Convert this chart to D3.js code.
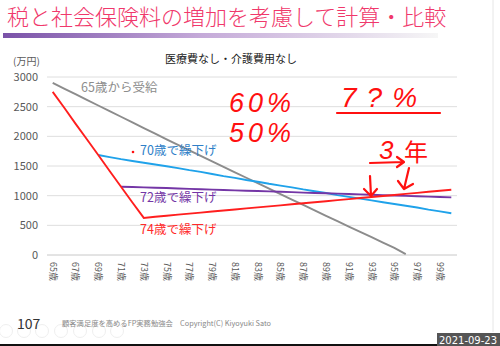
<!DOCTYPE html>
<html>
<head>
<meta charset="utf-8">
<script src="https://cdn.jsdelivr.net/npm/d3@7"></script>
<style>
  body { margin: 0; background: #fff; }
  svg { display: block; font-family: "Noto Sans CJK JP", "Noto Sans", sans-serif; }
</style>
</head>
<body>
<div id="chart"></div>
<script>
// categories (ages) and tick labels
var ages = [65, 66, 67, 68, 69, 70, 71, 72, 73, 74, 75, 76, 77, 78, 79, 80, 81, 82,
            83, 84, 85, 86, 87, 88, 89, 90, 91, 92, 93, 94, 95, 96, 97, 98, 99, 100];
var tickAges = [65, 67, 69, 71, 73, 75, 77, 79, 81, 83, 85, 87, 89, 91, 93, 95, 97, 99];
var yTicks = [0, 500, 1000, 1500, 2000, 2500, 3000];

// series values (万円), null = no value
var from65 = [2900, 2805, 2710, 2615, 2520, 2425, 2330, 2235, 2140, 2045, 1950, 1855,
              1762, 1670, 1578, 1486, 1394, 1302, 1210, 1118, 1026, 934, 843, 752,
              661, 570, 480, 390, 300, 210, 120, 15, null, null, null, null];
var defer70 = [null, null, null, null, 1685, 1650, 1615, 1585, 1555, 1525, 1495, 1465,
               1430, 1400, 1365, 1330, 1300, 1265, 1235, 1200, 1170, 1140, 1105, 1075,
               1045, 1010, 980, 950, 920, 890, 860, 830, 800, 765, 735, 703];
var defer72 = [null, null, null, null, null, null, 1150, 1145, 1140, 1134, 1128, 1121,
               1115, 1108, 1102, 1096, 1090, 1084, 1078, 1072, 1065, 1059, 1052, 1046,
               1040, 1034, 1028, 1021, 1015, 1008, 1002, 996, 990, 984, 978, 972];
var defer74 = [2750, 2485, 2215, 1950, 1685, 1415, 1150, 885, 625, 645, 662, 680,
               697, 715, 732, 750, 767, 785, 802, 820, 837, 855, 872, 890,
               907, 925, 942, 960, 977, 995, 1012, 1030, 1047, 1065, 1082, 1100];

var seriesNames = ["65歳から受給", "70歳で繰下げ", "72歳で繰下げ", "74歳で繰下げ"];

var width = 500, height = 346;
var svg = d3.select("#chart").append("svg")
    .attr("width", width)
    .attr("height", height);

// slide title + gradient bar
var defs = svg.append("defs");
var grad = defs.append("linearGradient").attr("id", "bar");
grad.append("stop").attr("offset", "0%").attr("stop-color", "#7a52a8");
grad.append("stop").attr("offset", "45%").attr("stop-color", "#c4a9d8");
grad.append("stop").attr("offset", "100%").attr("stop-color", "#f6f6f6");

svg.append("text")
    .attr("x", 7).attr("y", 25)
    .attr("fill", "#f0386b")
    .style("font-size", "22px")
    .style("font-weight", 300)
    .text("税と社会保険料の増加を考慮して計算・比較");
svg.append("rect")
    .attr("x", 3).attr("y", 33).attr("width", 435).attr("height", 5)
    .attr("fill", "url(#bar)");
svg.append("line")
    .attr("x1", 493).attr("x2", 493).attr("y1", 0).attr("y2", 332)
    .attr("stroke", "#e6e6e6");

// scales
var x = d3.scaleBand().domain(ages).range([47, 457]);
var y = d3.scaleLinear().domain([0, 3000]).range([255, 77]);
var cx = function (a) { return x(a) + x.bandwidth() / 2; };

// gridlines and y labels
svg.append("g").selectAll("line")
    .data(yTicks).enter().append("line")
    .attr("x1", 47).attr("x2", 457)
    .attr("y1", function (d) { return y(d); })
    .attr("y2", function (d) { return y(d); })
    .attr("stroke", function (d) { return d === 0 ? "#c8c8c8" : "#dedede"; })
    .attr("stroke-width", 1);

svg.append("g").selectAll("text")
    .data(yTicks).enter().append("text")
    .attr("x", 38)
    .attr("y", function (d) { return y(d) + 4; })
    .attr("text-anchor", "end")
    .attr("fill", "#595959")
    .style("font-size", "11px")
    .text(function (d) { return d; });

// x labels, rotated
svg.append("g").selectAll("text")
    .data(tickAges).enter().append("text")
    .attr("transform", function (d) { return "translate(" + (cx(d) - 3) + ",262) rotate(90)"; })
    .attr("fill", "#595959")
    .style("font-size", "9px")
    .text(function (d) { return d + "歳"; });

svg.append("text")
    .attr("x", 13).attr("y", 65)
    .attr("fill", "#595959")
    .style("font-size", "10px")
    .text("(万円)");

svg.append("text")
    .attr("x", 231).attr("y", 63)
    .attr("text-anchor", "middle")
    .attr("fill", "#222")
    .style("font-size", "11px")
    .text("医療費なし・介護費用なし");

// lines
var line = d3.line()
    .defined(function (d) { return d.v != null; })
    .x(function (d) { return cx(d.a); })
    .y(function (d) { return y(d.v); });

var series = [
    {values: from65, color: "#8c8c8c"},
    {values: defer70, color: "#1fa2ea"},
    {values: defer72, color: "#7436a6"},
    {values: defer74, color: "#ff1e1e"}
];
svg.append("g").selectAll("path")
    .data(series).enter().append("path")
    .attr("d", function (s) {
        return line(ages.map(function (a, i) { return {a: a, v: s.values[i]}; }));
    })
    .attr("fill", "none")
    .attr("stroke", function (s) { return s.color; })
    .attr("stroke-width", 1.9);

// series labels
var labels = [
    {text: seriesNames[0], x: 81, y: 92, color: "#8c8c8c"},
    {text: seriesNames[1], x: 140, y: 155, color: "#2f7fc8"},
    {text: seriesNames[2], x: 140, y: 202, color: "#7436a6"},
    {text: seriesNames[3], x: 140, y: 234, color: "#ff2a2a"}
];
svg.append("g").selectAll("text")
    .data(labels).enter().append("text")
    .attr("x", function (d) { return d.x; })
    .attr("y", function (d) { return d.y; })
    .attr("fill", function (d) { return d.color; })
    .style("font-size", "12.5px")
    .text(function (d) { return d.text; });

// handwritten notes
var red = "#ff1010";
var hand = svg.append("g").attr("fill", red)
    .style("font-family", "'Liberation Sans', sans-serif")
    .style("font-style", "italic");
hand.append("circle").attr("cx", 133).attr("cy", 152).attr("r", 1.3);
hand.append("text").attr("x", 229).attr("y", 112).style("font-size", "27px")
    .style("letter-spacing", "4px").text("60%");
hand.append("text").attr("x", 229).attr("y", 142).style("font-size", "27px")
    .style("letter-spacing", "4px").text("50%");
hand.append("text").attr("x", 341).attr("y", 107).style("font-size", "28px")
    .style("letter-spacing", "10px").text("7?%");
hand.append("text").attr("x", 379).attr("y", 159).style("font-size", "26px").text("3");
hand.append("text").attr("x", 404).attr("y", 161).style("font-size", "24px")
    .style("font-style", "normal")
    .style("font-family", "'Noto Sans CJK JP'").text("年");

var strokes = [
    "M337,113 L440,113",
    "M370,163 L404,162 M397,157 L404,162 L397,167",
    "M370,176 L371,196 M364,189 L371,196 L377,189",
    "M409,168 L404,189 M398,181 L404,189 L413,184"
];
svg.append("g").selectAll("path")
    .data(strokes).enter().append("path")
    .attr("d", function (d) { return d; })
    .attr("fill", "none")
    .attr("stroke", red)
    .attr("stroke-width", 2.2)
    .attr("stroke-linecap", "round")
    .attr("stroke-linejoin", "round");

// footer
var icons = [6, 24, 42, 61, 80, 99, 117];
svg.append("g").selectAll("circle")
    .data(icons).enter().append("circle")
    .attr("cx", function (d) { return d; }).attr("cy", 331).attr("r", 6.5)
    .attr("fill", "none").attr("stroke", "#efefef");

svg.append("text")
    .attr("x", 17).attr("y", 329)
    .attr("fill", "#333")
    .style("font-size", "14px")
    .text("107");
svg.append("text")
    .attr("x", 62).attr("y", 326)
    .attr("fill", "#888")
    .style("font-size", "7.3px")
    .text("顧客満足度を高めるFP実務勉強会　Copyright(C) Kiyoyuki Sato");

svg.append("rect")
    .attr("x", 0).attr("y", 344).attr("width", 500).attr("height", 2)
    .attr("fill", "#111");
svg.append("rect")
    .attr("x", 437).attr("y", 333).attr("width", 63).attr("height", 13)
    .attr("fill", "#555");
svg.append("text")
    .attr("x", 468).attr("y", 343.5)
    .attr("text-anchor", "middle")
    .attr("fill", "#fff")
    .style("font-size", "10px")
    .style("font-family", "'DejaVu Sans', sans-serif")
    .text("2021-09-23");
</script>
</body>
</html>
